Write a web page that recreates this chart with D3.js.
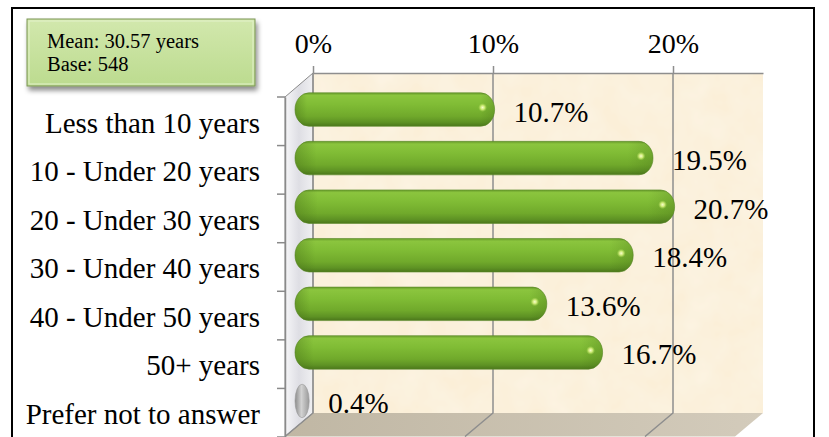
<!DOCTYPE html>
<html>
<head>
<meta charset="utf-8">
<script src="https://cdn.jsdelivr.net/npm/d3@7"></script>
<style>
  html, body { margin: 0; padding: 0; background: #fff; }
  svg { display: block; }
  text { font-family: "Liberation Serif", "Times New Roman", serif; fill: #000; }
</style>
</head>
<body>
<div id="chart"></div>
<script>
// data
var categories = [
  "Less than 10 years",
  "10 - Under 20 years",
  "20 - Under 30 years",
  "30 - Under 40 years",
  "40 - Under 50 years",
  "50+ years",
  "Prefer not to answer"
];
var values = [10.7, 19.5, 20.7, 18.4, 13.6, 16.7, 0.4];
var tickValues = [0, 10, 20];
var infoLines = ["Mean: 30.57 years", "Base: 548"];

var width = 829;
var height = 437;

// 3d depth offset (front -> back)
var depthX = 28;
var depthY = -23.5;

var svg = d3.select("#chart").append("svg")
  .attr("width", width)
  .attr("height", height);

var defs = svg.append("defs");

// bar gradient
var gBar = defs.append("linearGradient").attr("id", "barGrad")
  .attr("x1", 0).attr("y1", 0).attr("x2", 0).attr("y2", 1);
[[0, "#679a2a"], [0.08, "#8bc53e"], [0.35, "#80bc35"], [0.7, "#70a92b"], [0.88, "#5e9224"], [1, "#4b771b"]]
  .forEach(s => gBar.append("stop").attr("offset", s[0]).attr("stop-color", s[1]));

var gEnd = defs.append("linearGradient").attr("id", "endGrad")
  .attr("x1", 0).attr("y1", 0).attr("x2", 1).attr("y2", 0);
[[0, "#3f6614", 0.35], [0.06, "#3f6614", 0], [0.93, "#3f6614", 0], [1, "#3f6614", 0.25]]
  .forEach(s => gEnd.append("stop").attr("offset", s[0]).attr("stop-color", s[1]).attr("stop-opacity", s[2]));

var gGrey = defs.append("linearGradient").attr("id", "greyGrad")
  .attr("x1", 0).attr("y1", 0).attr("x2", 1).attr("y2", 0);
[[0, "#8c8c8c"], [0.45, "#d2d2d2"], [1, "#9a9a9a"]]
  .forEach(s => gGrey.append("stop").attr("offset", s[0]).attr("stop-color", s[1]));

var gFloor = defs.append("linearGradient").attr("id", "floorGrad")
  .attr("x1", 0).attr("y1", 0).attr("x2", 1).attr("y2", 0);
[[0, "#c0b7a4"], [1, "#d3cbbb"]]
  .forEach(s => gFloor.append("stop").attr("offset", s[0]).attr("stop-color", s[1]));

var gSide = defs.append("linearGradient").attr("id", "sideGrad")
  .attr("x1", 0).attr("y1", 0).attr("x2", 1).attr("y2", 0);
[[0, "#f6f6f8"], [0.5, "#dedee4"], [1, "#f0f0f2"]]
  .forEach(s => gSide.append("stop").attr("offset", s[0]).attr("stop-color", s[1]));

var gBox = defs.append("linearGradient").attr("id", "boxGrad")
  .attr("x1", 0).attr("y1", 0).attr("x2", 0).attr("y2", 1);
[[0, "#d2e8ad"], [1, "#bcdb8f"]]
  .forEach(s => gBox.append("stop").attr("offset", s[0]).attr("stop-color", s[1]));

var shine = defs.append("radialGradient").attr("id", "shine");
shine.append("stop").attr("offset", 0).attr("stop-color", "#f8ffd0").attr("stop-opacity", 1);
shine.append("stop").attr("offset", 0.45).attr("stop-color", "#d8f080").attr("stop-opacity", 0.9);
shine.append("stop").attr("offset", 1).attr("stop-color", "#a8d850").attr("stop-opacity", 0);

var shadow = defs.append("filter").attr("id", "boxShadow")
  .attr("x", "-10%").attr("y", "-10%").attr("width", "130%").attr("height", "150%");
shadow.append("feDropShadow").attr("dx", 2).attr("dy", 4).attr("stdDeviation", 2.5)
  .attr("flood-color", "#000").attr("flood-opacity", 0.45);

// paper texture for the back wall
var tex = defs.append("filter").attr("id", "paper");
tex.append("feTurbulence").attr("type", "fractalNoise").attr("baseFrequency", 0.035)
  .attr("numOctaves", 3).attr("seed", 4).attr("result", "noise");
tex.append("feColorMatrix").attr("in", "noise").attr("type", "matrix")
  .attr("values", "0 0 0 0 1  0 0 0 0 1  0 0 0 0 1  0 0 0 0.35 -0.05").attr("result", "spots");
tex.append("feComposite").attr("in", "spots").attr("in2", "SourceGraphic").attr("operator", "in").attr("result", "sp");
tex.append("feMerge").selectAll("feMergeNode").data(["SourceGraphic", "sp"]).enter()
  .append("feMergeNode").attr("in", d => d);

// outer frame
svg.append("rect")
  .attr("x", 12).attr("y", 8).attr("width", 802).attr("height", 445)
  .attr("fill", "#fff").attr("stroke", "#000").attr("stroke-width", 2);

// scales
var x = d3.scaleLinear().domain([0, 25]).range([313, 763]);   // back wall
var yFront = d3.scaleBand().domain(categories).range([97, 437])
  .paddingInner(0.31).paddingOuter(0.155);

var wallTop = 73;
var wallBottom = 413;

// back wall
svg.append("rect")
  .attr("x", x(0)).attr("y", wallTop)
  .attr("width", x(25) - x(0)).attr("height", wallBottom - wallTop)
  .attr("fill", "#fbefd7")
  .attr("filter", "url(#paper)");

// floor
svg.append("polygon")
  .attr("points", [
    [x(0), wallBottom], [x(25), wallBottom],
    [x(25) - depthX, wallBottom - depthY], [x(0) - depthX, wallBottom - depthY]
  ].join(" "))
  .attr("fill", "url(#floorGrad)");

// left side wall
svg.append("polygon")
  .attr("points", [
    [x(0) - depthX, yFront.range()[0]], [x(0), wallTop],
    [x(0), wallBottom], [x(0) - depthX, wallBottom - depthY]
  ].join(" "))
  .attr("fill", "url(#sideGrad)")
  .attr("stroke", "#8a8a8a").attr("stroke-width", 1);

// gridlines on wall and floor
var grid = svg.append("g").attr("stroke", "#8e8e8e").attr("stroke-width", 1.5).attr("fill", "none");
grid.selectAll("path").data(tickValues).enter().append("path")
  .attr("d", d => "M" + x(d) + "," + wallTop + "V" + wallBottom +
    "L" + (x(d) - depthX) + "," + (wallBottom - depthY));

// top value axis
var xAxis = svg.append("g")
  .attr("transform", "translate(0," + wallTop + ")")
  .call(d3.axisTop(x).tickValues(tickValues).tickSizeInner(7).tickSizeOuter(0).tickPadding(13)
    .tickFormat(d => d + "%"));
xAxis.select(".domain").attr("stroke", "#8e8e8e").attr("stroke-width", 1.5);
xAxis.selectAll(".tick line").attr("stroke", "#8e8e8e").attr("stroke-width", 1.5);
xAxis.selectAll("text").attr("font-size", 28).attr("fill", "#000");

// category axis (front plane)
var axisX = x(0) - depthX;
var yAxis = svg.append("g")
  .attr("transform", "translate(" + axisX + ",0)")
  .call(d3.axisLeft(yFront).tickSize(0).tickPadding(25));
yAxis.select(".domain").attr("stroke", "#8a8a8a").attr("stroke-width", 1.5);
yAxis.selectAll("text").attr("font-size", 29)
  .attr("fill", "#000").attr("dy", "0.39em");

var step = yFront.step();
var bounds = d3.range(categories.length + 1).map(i => yFront.range()[0] + i * step);
yAxis.selectAll(".bound").data(bounds).enter().append("line")
  .attr("class", "bound")
  .attr("x1", -8).attr("x2", 0)
  .attr("y1", d => d).attr("y2", d => d)
  .attr("stroke", "#8a8a8a").attr("stroke-width", 1.5);

// bars (placed half way into the depth)
var barStart = axisX + 10;
var barEnd = d => x(d) - 11;
var barMid = c => yFront(c) + yFront.bandwidth() / 2 + depthY / 2;
var bh = yFront.bandwidth();
var tiny = d => (barEnd(d.v) - barStart) < 28;

var rows = categories.map((c, i) => ({ cat: c, v: values[i] }));

var bars = svg.append("g").selectAll("g").data(rows).enter().append("g");

bars.append("rect")
  .attr("x", barStart)
  .attr("y", d => barMid(d.cat) - bh / 2)
  .attr("width", d => barEnd(d.v) - barStart)
  .attr("height", bh)
  .attr("rx", d => Math.min(14, (barEnd(d.v) - barStart) / 2))
  .attr("ry", bh / 2)
  .attr("fill", d => tiny(d) ? "url(#greyGrad)" : "url(#barGrad)")
  .attr("stroke", d => tiny(d) ? "#9a9a9a" : "#5b8a2a")
  .attr("stroke-opacity", 0.6);

bars.filter(d => !tiny(d)).append("rect")
  .attr("x", barStart)
  .attr("y", d => barMid(d.cat) - bh / 2)
  .attr("width", d => barEnd(d.v) - barStart)
  .attr("height", bh)
  .attr("rx", 14).attr("ry", bh / 2)
  .attr("fill", "url(#endGrad)");

bars.filter(d => !tiny(d)).append("circle")
  .attr("cx", d => barEnd(d.v) - 12)
  .attr("cy", d => barMid(d.cat) - 2)
  .attr("r", 4.5)
  .attr("fill", "url(#shine)");

// value labels
bars.append("text")
  .attr("x", d => barEnd(d.v) + 19)
  .attr("y", d => barMid(d.cat) + 12)
  .attr("font-size", 29)
  .text(d => d.v.toFixed(1) + "%");

// mean / base box
var box = svg.append("g");
box.append("rect")
  .attr("x", 27).attr("y", 19).attr("width", 228).attr("height", 67)
  .attr("fill", "url(#boxGrad)")
  .attr("stroke", "#7a9455").attr("stroke-width", 1)
  .attr("filter", "url(#boxShadow)");
box.append("rect")
  .attr("x", 29).attr("y", 21).attr("width", 224).attr("height", 63)
  .attr("fill", "none").attr("stroke", "#e4f2cc").attr("stroke-width", 1.2).attr("opacity", 0.8);
box.selectAll("text").data(infoLines).enter().append("text")
  .attr("x", 47)
  .attr("y", (d, i) => 48 + i * 23)
  .attr("font-size", 20.5)
  .text(d => d);
</script>
</body>
</html>
